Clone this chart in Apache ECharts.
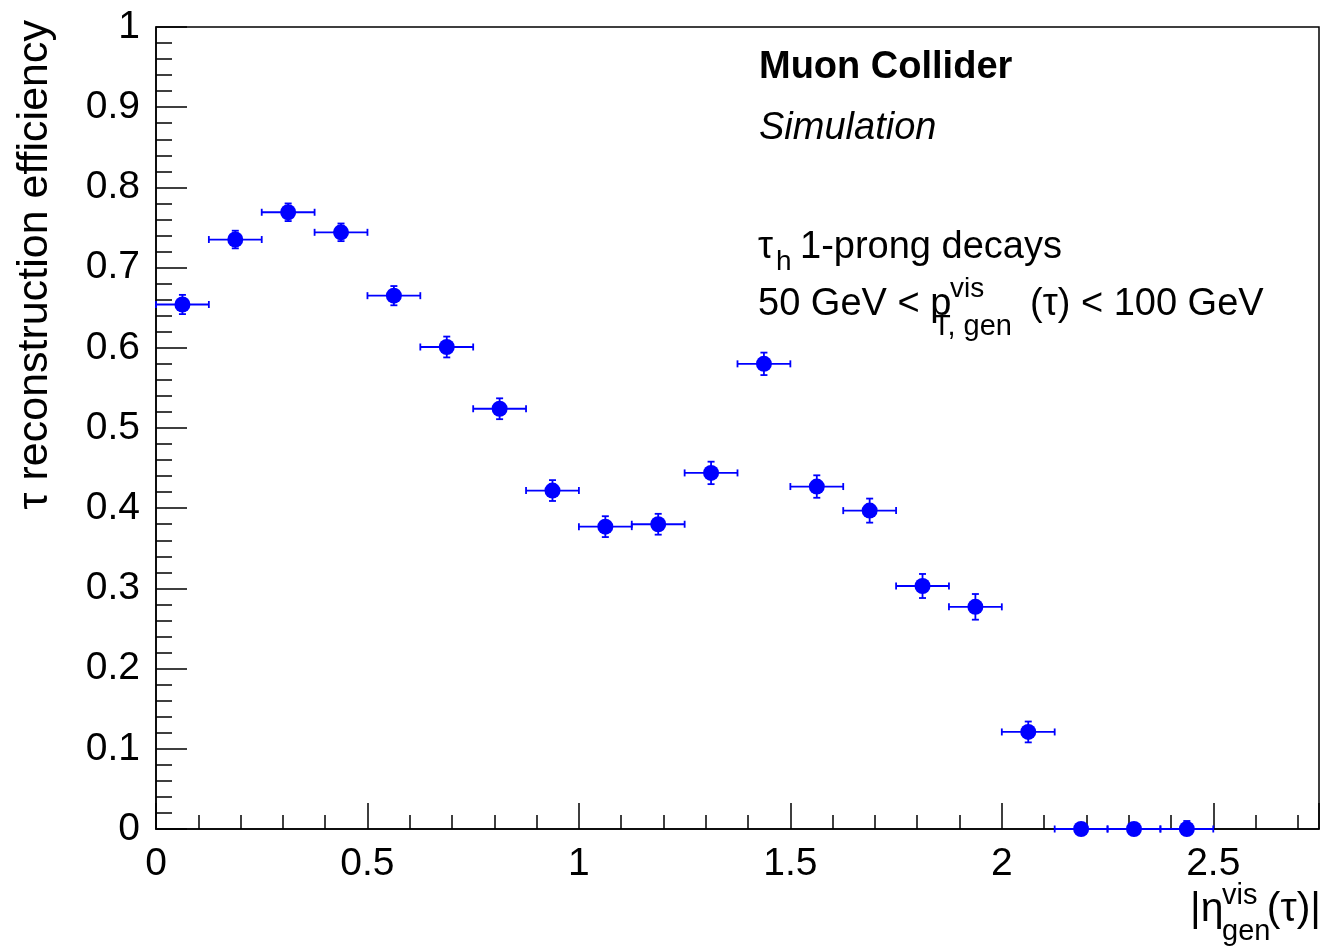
<!DOCTYPE html>
<html>
<head>
<meta charset="utf-8">
<script src="https://cdn.jsdelivr.net/npm/echarts@6/dist/echarts.min.js"></script>
<style>
  html, body { margin: 0; padding: 0; background: #fff; }
  #chart { width: 1324px; height: 947px; }
</style>
</head>
<body>
<div id="chart"></div>
<script>
// Bin centres in |eta_gen^vis(tau)| (bin width 0.125)
const etaCenters = [0.0625, 0.1875, 0.3125, 0.4375, 0.5625, 0.6875, 0.8125, 0.9375, 1.0625, 1.1875,
                    1.3125, 1.4375, 1.5625, 1.6875, 1.8125, 1.9375, 2.0625, 2.1875, 2.3125, 2.4375];
const binHalfWidth = 0.0625;
// Reconstruction efficiency per bin
const efficiency = [0.654, 0.735, 0.769, 0.744, 0.665, 0.601, 0.524, 0.422, 0.377, 0.380,
                    0.444, 0.580, 0.427, 0.397, 0.303, 0.277, 0.121, 0.000, 0.000, 0.000];
// Lower / upper statistical uncertainties
const errLow  = [0.012, 0.011, 0.011, 0.011, 0.012, 0.013, 0.013, 0.013, 0.013, 0.013,
                 0.014, 0.014, 0.014, 0.015, 0.015, 0.016, 0.013, 0.000, 0.000, 0.000];
const errHigh = [0.012, 0.011, 0.011, 0.011, 0.012, 0.013, 0.013, 0.013, 0.013, 0.013,
                 0.014, 0.014, 0.014, 0.015, 0.015, 0.016, 0.013, 0.006, 0.006, 0.010];
// Axis tick labels
const xTickLabels = [0, 0.5, 1, 1.5, 2, 2.5];
const yTickLabels = [0, 0.1, 0.2, 0.3, 0.4, 0.5, 0.6, 0.7, 0.8, 0.9, 1];

const FONT = '"Liberation Sans", Arial, sans-serif';
const BLUE = '#0000ff';

const points = etaCenters.map((x, i) => [x, efficiency[i]]);
const errData = etaCenters.map((x, i) => [x, efficiency[i], errLow[i], errHigh[i]]);

function fmtTick(list) {
  return function (v) {
    for (const t of list) if (Math.abs(v - t) < 1e-6) return String(t);
    return '';
  };
}

function renderErr(params, api) {
  const x = api.value(0), y = api.value(1), lo = api.value(2), hi = api.value(3);
  const l = api.coord([x - binHalfWidth, y]);
  const r = api.coord([x + binHalfWidth, y]);
  const b = api.coord([x, y - lo]);
  const t = api.coord([x, y + hi]);
  const cap = 3.5;
  const st = { stroke: BLUE, lineWidth: 1.8 };
  const kids = [
    { type: 'line', shape: { x1: l[0], y1: l[1], x2: r[0], y2: r[1] }, style: st },
    { type: 'line', shape: { x1: l[0], y1: l[1] - cap, x2: l[0], y2: l[1] + cap }, style: st },
    { type: 'line', shape: { x1: r[0], y1: r[1] - cap, x2: r[0], y2: r[1] + cap }, style: st }
  ];
  if (hi > 0) {
    kids.push({ type: 'line', shape: { x1: t[0], y1: t[1], x2: t[0], y2: l[1] }, style: st });
    kids.push({ type: 'line', shape: { x1: t[0] - cap, y1: t[1], x2: t[0] + cap, y2: t[1] }, style: st });
  }
  if (lo > 0) {
    kids.push({ type: 'line', shape: { x1: b[0], y1: b[1], x2: b[0], y2: l[1] }, style: st });
    kids.push({ type: 'line', shape: { x1: b[0] - cap, y1: b[1], x2: b[0] + cap, y2: b[1] }, style: st });
  }
  return { type: 'group', children: kids };
}

function txt(x, y, text, size, extra) {
  return Object.assign({
    type: 'text', x: x, y: y, z: 10,
    style: Object.assign({
      text: text, font: size + 'px ' + FONT, fill: '#000',
      textAlign: 'left', textVerticalAlign: 'middle'
    }, (extra && extra.style) || {})
  }, extra && extra.rotation !== undefined ? { rotation: extra.rotation } : {});
}

const chart = echarts.init(document.getElementById('chart'), null, { renderer: 'canvas' });

chart.setOption({
  animation: false,
  backgroundColor: '#fff',
  grid: {
    left: 156, right: 5, top: 27, bottom: 118,
    show: true, borderColor: '#000', borderWidth: 1.5, backgroundColor: 'transparent'
  },
  xAxis: {
    type: 'value', min: 0, max: 2.75, interval: 0.5,
    axisLine: { show: true, onZero: false, lineStyle: { color: '#000', width: 1.5 } },
    axisTick: { show: true, inside: true, length: 26, lineStyle: { color: '#000', width: 1.5 } },
    minorTick: { show: true, splitNumber: 5, length: 14, lineStyle: { color: '#000', width: 1.5 } },
    splitLine: { show: false },
    axisLabel: {
      margin: 16, fontSize: 39, fontFamily: FONT, color: '#000',
      showMaxLabel: false, formatter: fmtTick(xTickLabels)
    }
  },
  yAxis: {
    type: 'value', min: 0, max: 1, interval: 0.1,
    axisLine: { show: true, onZero: false, lineStyle: { color: '#000', width: 1.5 } },
    axisTick: { show: true, inside: true, length: 31, lineStyle: { color: '#000', width: 1.5 } },
    minorTick: { show: true, splitNumber: 5, length: 16, lineStyle: { color: '#000', width: 1.5 } },
    splitLine: { show: false },
    axisLabel: {
      margin: 16, fontSize: 39, fontFamily: FONT, color: '#000',
      formatter: fmtTick(yTickLabels)
    }
  },
  series: [
    {
      type: 'custom', renderItem: renderErr, data: errData,
      encode: { x: 0, y: 1 }, z: 2, clip: false
    },
    {
      type: 'scatter', data: points, symbol: 'circle', symbolSize: 16,
      itemStyle: { color: BLUE, opacity: 1 }, z: 3
    }
  ],
  graphic: [
    // y-axis title (rotated, aligned to the top of the axis)
    txt(35, 20, '\u03c4 reconstruction efficiency', 43, { rotation: Math.PI / 2, style: { textAlign: 'right' } }),
    // x-axis title |eta^vis_gen(tau)|
    txt(1190, 910, '|\u03b7', 41),
    txt(1222, 896, 'vis', 29),
    txt(1222, 932, 'gen', 29),
    txt(1321, 910, '(\u03c4)|', 41, { style: { textAlign: 'right' } }),
    // Labels
    txt(759, 68, 'Muon Collider', 38, { style: { font: 'bold 38px ' + FONT } }),
    txt(759, 128, 'Simulation', 38, { style: { font: 'italic 38px ' + FONT } }),
    txt(758, 248, '\u03c4', 38),
    txt(776, 262, 'h', 28),
    txt(800, 248, '1-prong decays', 38),
    txt(758, 305, '50 GeV < p', 38),
    txt(950, 289, 'vis', 28),
    txt(933, 327, 'T, gen', 29),
    txt(1030, 305, '(\u03c4) < 100 GeV', 38)
  ]
});
</script>
</body>
</html>
